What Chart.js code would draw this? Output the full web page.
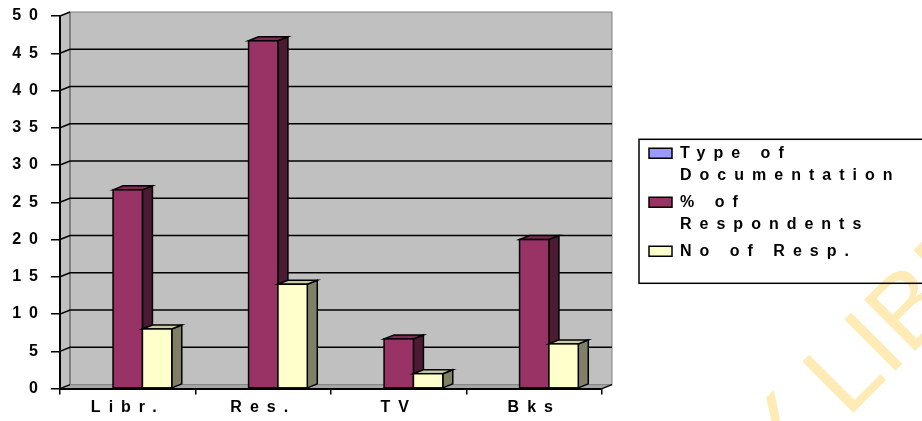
<!DOCTYPE html>
<html lang="en">
<head>
    <meta charset="UTF-8">
    <title>Type of Documentation</title>
    <script src="https://cdn.jsdelivr.net/npm/chart.js@4"></script>
    <style>
        html, body { margin: 0; padding: 0; background: #fff; }
        canvas { display: block; }
    </style>
</head>
<body>
    <canvas id="docChart" width="922" height="421"></canvas>

    <script>
        // Data
        const categories = ['Libr.', 'Res.', 'TV', 'Bks'];
        const seriesNames = ['Type of Documentation', '% of Respondents', 'No of Resp.'];
        const typeOfDocumentation = [null, null, null, null];
        const pctRespondents = [26.67, 46.67, 6.67, 20];
        const noOfResp = [8, 14, 2, 6];
        const legendLines = [['Type of', 'Documentation'], ['% of', 'Respondents'], 'No of Resp.'];
        const yMin = 0, yMax = 50, yStep = 5;
        const watermark = 'Y LIBRARY';

        const FONT = "'Liberation Sans', Arial, sans-serif";
        const SPACING = '8px';
        const DX = 10, DY = 4;
        const LEGEND_WIDTH = 278;

        // front / side / top colours of each series
        const faces = [
            { front: '#9999ff', side: '#4d4d80', top: '#7a7acc' },
            { front: '#993366', side: '#4d1a33', top: '#7d2a55' },
            { front: '#ffffcc', side: '#808066', top: '#cccca3' }
        ];

        function poly(ctx, pts, fill, stroke) {
            ctx.beginPath();
            ctx.moveTo(pts[0][0], pts[0][1]);
            for (let i = 1; i < pts.length; i++) ctx.lineTo(pts[i][0], pts[i][1]);
            ctx.closePath();
            if (fill) { ctx.fillStyle = fill; ctx.fill(); }
            if (stroke) { ctx.strokeStyle = stroke; ctx.stroke(); }
        }

        // legend is wider than chart.js allows for a side box, so force its width
        function fixLegend(chart) {
            const lg = chart.legend;
            if (!lg || lg._fixedWidth) return;
            const fit = lg.fit;
            lg.fit = function () {
                fit.call(this);
                if (this.options.display) this.width = LEGEND_WIDTH;
            };
            lg._fixedWidth = true;
        }

        const excel3d = {
            id: 'excel3d',
            beforeUpdate(chart) {
                chart.ctx.letterSpacing = SPACING;
                fixLegend(chart);
            },
            beforeDraw(chart) {
                const { ctx, chartArea: a } = chart;
                const y = chart.scales.y;
                ctx.save();

                // watermark
                ctx.save();
                ctx.letterSpacing = '0px';
                ctx.translate(777, 489);
                ctx.rotate(-Math.PI / 4);
                ctx.font = '105px ' + FONT;
                ctx.fillStyle = '#ffebb6';
                ctx.fillText(watermark, 0, 0);
                ctx.restore();

                // back wall, left wall, floor
                ctx.lineWidth = 1;
                ctx.fillStyle = '#c0c0c0';
                ctx.fillRect(a.left + DX, a.top - DY, a.width, a.height);
                poly(ctx, [[a.left, a.top], [a.left + DX, a.top - DY], [a.left + DX, a.bottom - DY], [a.left, a.bottom]], '#c0c0c0');
                poly(ctx, [[a.left, a.bottom], [a.right, a.bottom], [a.right + DX, a.bottom - DY], [a.left + DX, a.bottom - DY]], '#a6a6a6');
                ctx.strokeStyle = '#808080';
                ctx.strokeRect(a.left + DX, a.top - DY, a.width, a.height);
                ctx.lineWidth = 2;
                ctx.beginPath();
                ctx.moveTo(a.left + DX, a.top - DY);
                ctx.lineTo(a.left + DX, a.bottom - DY);
                ctx.stroke();

                // gridlines on the back wall and across the left wall
                ctx.lineWidth = 1.5;
                ctx.strokeStyle = '#000';
                y.ticks.forEach(t => {
                    const py = y.getPixelForValue(t.value);
                    ctx.beginPath();
                    ctx.moveTo(a.left, py);
                    ctx.lineTo(a.left + DX, py - DY);
                    if (t.value > yMin && t.value < yMax) ctx.lineTo(a.right + DX, py - DY);
                    ctx.stroke();
                });
                ctx.beginPath();
                ctx.moveTo(a.right, a.bottom);
                ctx.lineTo(a.right + DX, a.bottom - DY);
                ctx.stroke();

                ctx.restore();
                ctx.letterSpacing = SPACING;
            },
            afterDatasetsDraw(chart) {
                const ctx = chart.ctx;
                ctx.save();
                ctx.lineWidth = 1.5;
                ctx.strokeStyle = '#000';
                categories.forEach((c, i) => {
                    chart.data.datasets.forEach((ds, d) => {
                        const bar = chart.getDatasetMeta(d).data[i];
                        if (!bar || ds.data[i] == null) return;
                        const { x, y, base, width } = bar.getProps(['x', 'y', 'base', 'width'], true);
                        const l = x - width / 2, r = x + width / 2;
                        poly(ctx, [[r, y], [r + DX, y - DY], [r + DX, base - DY], [r, base]], faces[d].side, '#000');
                        poly(ctx, [[l, y], [l + DX, y - DY], [r + DX, y - DY], [r, y]], faces[d].top, '#000');
                        ctx.fillStyle = faces[d].front;
                        ctx.fillRect(l, y, width, base - y);
                        ctx.strokeRect(l, y, width, base - y);
                    });
                });
                ctx.restore();
            },
            afterDraw(chart) {
                // frame round the legend, open at the right edge
                const lg = chart.legend;
                const hb = lg.legendHitBoxes;
                if (!hb || !hb.length) return;
                const last = hb[hb.length - 1];
                const top = hb[0].top - 6;
                const bottom = last.top + last.height + 24;
                const ctx = chart.ctx;
                ctx.save();
                ctx.lineWidth = 1.5;
                ctx.strokeStyle = '#000';
                ctx.strokeRect(lg.left - 5, top, chart.width, bottom - top);
                ctx.restore();
            }
        };

        Chart.defaults.font.family = FONT;
        Chart.defaults.color = '#000';

        const labelFont = { family: FONT, size: 16, weight: 'bold', lineHeight: 1.2 };

        new Chart(document.getElementById('docChart'), {
            type: 'bar',
            data: {
                labels: categories,
                datasets: [
                    { label: seriesNames[0], data: typeOfDocumentation, backgroundColor: faces[0].front },
                    { label: seriesNames[1], data: pctRespondents, backgroundColor: faces[1].front },
                    { label: seriesNames[2], data: noOfResp, backgroundColor: faces[2].front }
                ].map(ds => Object.assign(ds, {
                    yAxisID: 'y',
                    borderColor: '#000',
                    borderWidth: 1.5,
                    categoryPercentage: 0.65,
                    barPercentage: 1
                }))
            },
            options: {
                responsive: false,
                animation: false,
                events: [],
                layout: { padding: { top: 16, bottom: 0.4, left: 0, right: 0 } },
                scales: {
                    x: {
                        grid: { drawOnChartArea: false, tickLength: 6, color: '#000', lineWidth: 1.5, offset: true },
                        border: { color: '#000', width: 2 },
                        ticks: { color: '#000', font: labelFont, padding: 3.4, maxRotation: 0 }
                    },
                    y: {
                        min: yMin,
                        max: yMax,
                        grid: { drawOnChartArea: false, tickLength: 9, color: '#000', lineWidth: 1.5 },
                        border: { color: '#000', width: 2 },
                        ticks: { stepSize: yStep, color: '#000', font: labelFont, padding: 5 },
                        afterFit(s) { s.width = 60; }
                    },
                    gap: {
                        type: 'linear',
                        position: 'right',
                        grid: { display: false },
                        border: { display: false },
                        ticks: { display: false },
                        afterFit(s) { s.width = 42; }
                    }
                },
                plugins: {
                    tooltip: { enabled: false },
                    legend: {
                        position: 'right',
                        align: 'center',
                        fullSize: false,
                        labels: {
                            color: '#000',
                            font: { family: FONT, size: 16, weight: 'bold', lineHeight: 22 / 16 },
                            boxWidth: 23,
                            boxHeight: 10,
                            padding: 5,
                            generateLabels(chart) {
                                return Chart.defaults.plugins.legend.labels.generateLabels(chart)
                                    .map((item, i) => Object.assign(item, { text: legendLines[i] }));
                            }
                        }
                    }
                }
            },
            plugins: [excel3d]
        });
    </script>
</body>
</html>
